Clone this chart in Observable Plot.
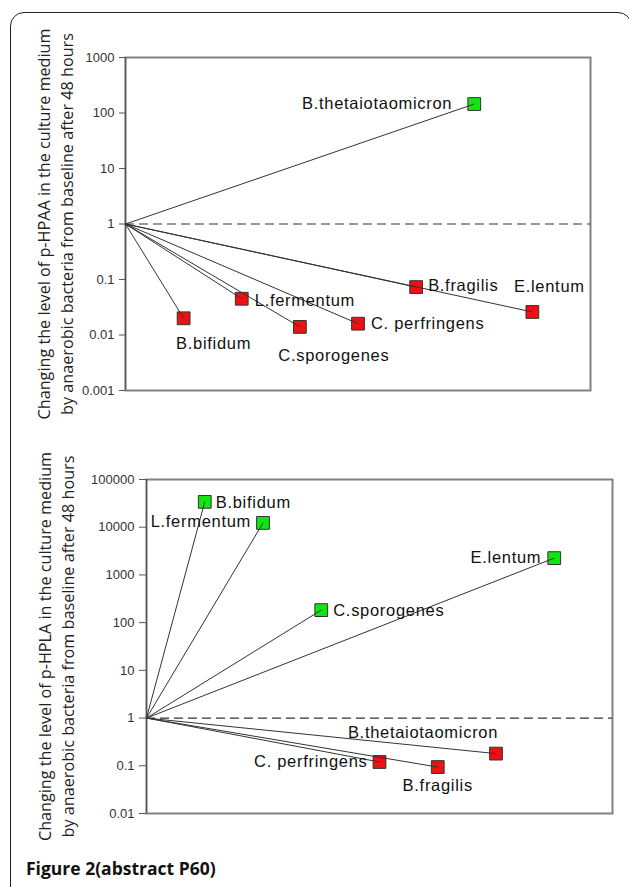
<!DOCTYPE html>
<html>
<head>
<meta charset="utf-8">
<script src="https://cdn.jsdelivr.net/npm/d3@7"></script>
<script src="https://cdn.jsdelivr.net/npm/@observablehq/plot@0.6"></script>
<style>
  html, body { margin: 0; padding: 0; background: #fff; }
  body { width: 629px; height: 887px; overflow: hidden; position: relative; }
  #frame { position: absolute; left: 10px; top: 12px; width: 622px; height: 900px;
           border: 1.5px solid #222; border-radius: 14px; box-sizing: border-box; }
  #top, #bottom { position: absolute; left: 0; }
  #top { top: 0; }
  #bottom { top: 420px; }
  #caption { position: absolute; left: 26px; top: 856px; font-family: "Open Sans", sans-serif;
             font-weight: bold; font-size: 17.5px; color: #111; }
  svg g[font-family="Liberation Sans"] text { letter-spacing: 0.7px; }
</style>
</head>
<body>
<div id="frame"></div>
<div id="top"></div>
<div id="bottom"></div>
<div id="caption">Figure 2(abstract P60)</div>
<script>
// ---- data ----
const species = ["B.bifidum", "L.fermentum", "C.sporogenes", "C. perfringens", "B.fragilis", "B.thetaiotaomicron", "E.lentum"];
const order = [1, 2, 3, 4, 5, 6, 7];
const hpaaFold = [0.020, 0.045, 0.014, 0.016, 0.073, 145, 0.026];
const hplaFold = [34000, 12300, 183, 0.12, 0.094, 0.18, 2250];
const topTicks = [0.001, 0.01, 0.1, 1, 10, 100, 1000];
const topTickLabels = ["0.001", "0.01", "0.1", "1", "10", "100", "1000"];
const bottomTicks = [0.01, 0.1, 1, 10, 100, 1000, 10000, 100000];
const bottomTickLabels = ["0.01", "0.1", "1", "10", "100", "1000", "10000", "100000"];
const topTitle = "Changing the level of p-HPAA in the culture medium\nby anaerobic bacteria from baseline after 48 hours";
const bottomTitle = "Changing the level of p-HPLA in the culture medium\nby anaerobic bacteria from baseline after 48 hours";

// label placement (layout only)
const topPlace = [
  {dx: 30, dy: 25, anchor: "middle"},
  {dx: 13, dy: 2, anchor: "start"},
  {dx: 34, dy: 29, anchor: "middle"},
  {dx: 13, dy: 0, anchor: "start"},
  {dx: 12, dy: -1, anchor: "start"},
  {dx: -22, dy: 0, anchor: "end"},
  {dx: 17, dy: -25, anchor: "middle"}
];
const bottomPlace = [
  {dx: 11, dy: 1, anchor: "start"},
  {dx: -12, dy: -1, anchor: "end"},
  {dx: 12, dy: 1, anchor: "start"},
  {dx: -12, dy: 0, anchor: "end"},
  {dx: 0, dy: 19, anchor: "middle"},
  {dx: -73, dy: -21, anchor: "middle"},
  {dx: -13, dy: 0, anchor: "end"}
];

const GREEN = "#11e611", RED = "#ee1111";

function panel(values, ticks, tickLabels, title, place, opts) {
  const data = species.map((s, i) => ({name: s, x: order[i], v: values[i]}));
  const labelMap = new Map(ticks.map((t, i) => [t, tickLabels[i]]));
  const labelMarks = data.map((d, i) => Plot.text([d], {
    x: "x", y: "v", text: "name", dx: place[i].dx, dy: place[i].dy,
    textAnchor: place[i].anchor, fontSize: 16.5, fill: "#111", fontFamily: "Liberation Sans"
  }));
  return Plot.plot({
    width: 629, height: 420,
    marginLeft: opts.ml, marginRight: opts.mr, marginTop: opts.mt, marginBottom: opts.mb,
    style: {fontFamily: "Arial, sans-serif", fontSize: "13px", background: "transparent", overflow: "visible"},
    x: {domain: [0, 8], axis: null},
    y: {type: "log", domain: [ticks[0], ticks[ticks.length - 1]]},
    marks: [
      Plot.frame({stroke: "#808080", strokeWidth: 2}),
      Plot.ruleX([0], {stroke: "#555", strokeWidth: 1.2}),
      Plot.axisY({ticks: ticks, tickFormat: d => labelMap.get(d), tickSize: opts.ts, tickPadding: 5,
                  fontSize: 13, color: "#333", stroke: "#555", label: null}),
      Plot.ruleY([1], {x1: 0, x2: 8, stroke: "#333", strokeDasharray: "9,5", strokeWidth: 1.2}),
      Plot.dot(data, {x: "x", y: "v", symbol: "square", r: 7.2,
                      fill: d => d.v >= 1 ? GREEN : RED, stroke: "#333", strokeWidth: 1}),
      Plot.link(data, {x1: 0, y1: 1, x2: "x", y2: "v", stroke: "#333", strokeWidth: 1}),
      ...labelMarks,
      Plot.text([title], {frameAnchor: "left", text: d => d, rotate: -90, dx: opts.tdx,
                          textAnchor: "middle", lineAnchor: "middle",
                          fontSize: 16.2, lineHeight: 1.38, fill: "#222", fontFamily: "Open Sans"})
    ]
  });
}

document.getElementById("top").appendChild(
  panel(hpaaFold, topTicks, topTickLabels, topTitle, topPlace, {ml: 125, mr: 39, mt: 57, mb: 30, ts: 6, tdx: -71})
);
document.getElementById("bottom").appendChild(
  panel(hplaFold, bottomTicks, bottomTickLabels, bottomTitle, bottomPlace, {ml: 146, mr: 17, mt: 59, mb: 27, ts: 7, tdx: -91})
);
</script>
</body>
</html>
